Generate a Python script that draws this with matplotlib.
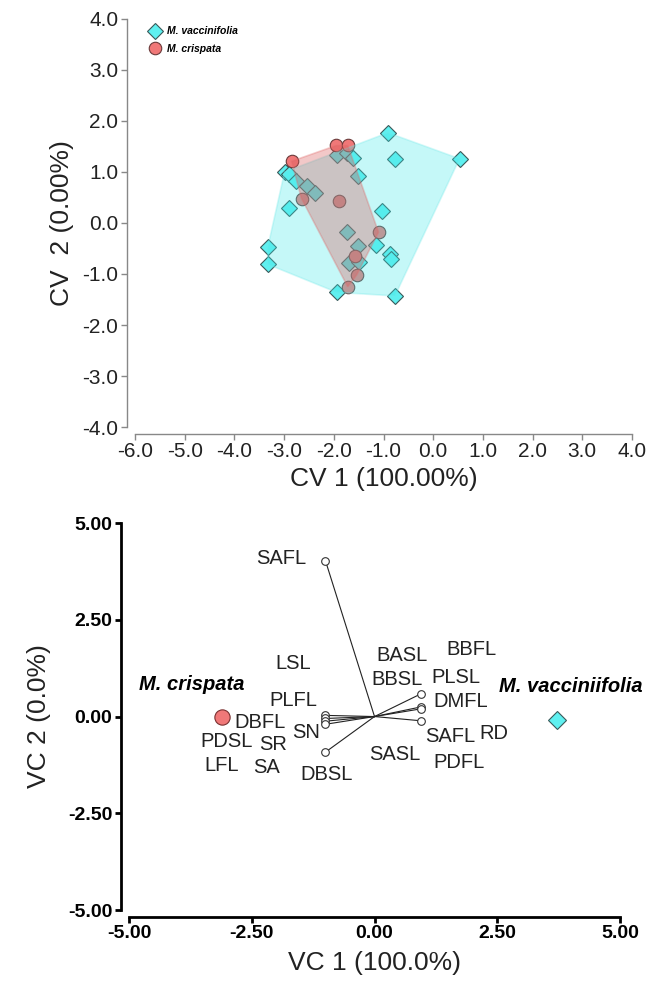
import matplotlib
matplotlib.use("Agg")
import matplotlib.pyplot as plt
from matplotlib.lines import Line2D
import numpy as np

plt.rcParams['font.family'] = ['Liberation Sans', 'DejaVu Sans']

# ---- top panel: CV scores ----
vac_x = [-0.91, 0.53, -0.77, -2.99, -2.90, -2.77, -2.54, -2.37, -2.90, -1.94, -1.74, -1.62, -1.52,
         -1.03, -1.74, -1.52, -1.16, -0.87, -0.85, -3.33, -3.33, -1.69, -1.49, -1.94, -0.77]
vac_y = [1.77, 1.26, 1.26, 1.00, 0.96, 0.82, 0.73, 0.58, 0.29, 1.34, 1.37, 1.27, 0.92,
         0.24, -0.18, -0.45, -0.43, -0.61, -0.70, -0.48, -0.81, -0.79, -0.76, -1.36, -1.43]
cri_x = [-2.85, -1.95, -1.72, -2.65, -1.89, -1.10, -1.58, -1.54, -1.72]
cri_y = [1.21, 1.52, 1.52, 0.48, 0.43, -0.18, -0.64, -1.02, -1.25]

# ---- bottom panel: biplot ----
grp_names = ['M. crispata', 'M. vacciniifolia']
grp_x = [-3.10, 3.71]
grp_y = [0.0, -0.10]
grp_lab_x = [-3.73, 4.0]
grp_lab_y = [0.83, 0.78]

vec_x = [-1.0, -1.0, -1.0, -1.0, -1.0, -1.0, 0.95, 0.95, 0.95, 0.95]
vec_y = [4.03, 0.03, -0.05, -0.12, -0.20, -0.92, 0.59, 0.25, 0.20, -0.11]

var_names = ['SAFL', 'LSL', 'PLFL', 'DBFL', 'SN', 'PDSL', 'SR', 'LFL', 'SA', 'DBSL',
             'BASL', 'BBFL', 'BBSL', 'PLSL', 'DMFL', 'SAFL', 'RD', 'SASL', 'PDFL']
var_x = [-1.91, -1.66, -1.66, -2.34, -1.39, -3.01, -2.06, -3.12, -2.19, -0.98,
         0.56, 1.98, 0.45, 1.66, 1.76, 1.54, 2.44, 0.41, 1.72]
var_y = [4.08, 1.38, 0.41, -0.15, -0.41, -0.65, -0.73, -1.27, -1.31, -1.51,
         1.59, 1.72, 0.95, 1.02, 0.39, -0.52, -0.45, -0.97, -1.18]


def hull(xs, ys):
    pts = sorted(set(zip(xs, ys)))
    def cross(o, a, b):
        return (a[0]-o[0])*(b[1]-o[1]) - (a[1]-o[1])*(b[0]-o[0])
    lower, upper = [], []
    for p in pts:
        while len(lower) >= 2 and cross(lower[-2], lower[-1], p) <= 0:
            lower.pop()
        lower.append(p)
    for p in reversed(pts):
        while len(upper) >= 2 and cross(upper[-2], upper[-1], p) <= 0:
            upper.pop()
        upper.append(p)
    return np.array(lower[:-1] + upper[:-1])


cyan = '#5ff0f0'
red = '#f07878'

fig = plt.figure(figsize=(6.51, 9.88), dpi=100)

ax1 = fig.add_axes([0.2074, 0.5678, 0.7634, 0.413])
ax1.plot(vac_x, vac_y, 'D', ms=8, mfc=cyan, mec='#3a5a5a', mew=0.8, zorder=2)
ax1.plot(cri_x, cri_y, 'o', ms=9, mfc=red, mec='#6a3a3a', mew=0.8, zorder=2)
h = hull(vac_x, vac_y)
ax1.fill(h[:, 0], h[:, 1], fc='#40e8e8', alpha=0.3, ec='#70e8e8', lw=1.2, zorder=3)
h = hull(cri_x, cri_y)
ax1.fill(h[:, 0], h[:, 1], fc='#d85858', alpha=0.33, ec='#e06868', lw=1.2, zorder=4)

ax1.set_xlim(-6, 4)
ax1.set_ylim(-4, 4)
ax1.set_xticks(np.arange(-6, 4.1, 1))
ax1.set_yticks(np.arange(-4, 4.1, 1))
ax1.xaxis.set_major_formatter(matplotlib.ticker.FormatStrFormatter('%.1f'))
ax1.yaxis.set_major_formatter(matplotlib.ticker.FormatStrFormatter('%.1f'))
for s in ['top', 'right']:
    ax1.spines[s].set_visible(False)
ax1.spines['left'].set_position(('outward', 6))
ax1.spines['bottom'].set_position(('outward', 5))
for s in ['left', 'bottom']:
    ax1.spines[s].set_color('#888888')
    ax1.spines[s].set_linewidth(1)
ax1.tick_params(colors='#888888', labelcolor='#222222', labelsize=15, length=4, width=1, pad=2)
ax1.set_xlabel('CV 1 (100.00%)', fontsize=19, color='#222222', labelpad=4)
ax1.set_ylabel('CV  2 (0.00%)', fontsize=19, color='#222222', labelpad=6)

handles = [Line2D([], [], ls='none', marker='D', ms=8, mfc=cyan, mec='#3a5a5a', mew=0.8),
           Line2D([], [], ls='none', marker='o', ms=9, mfc=red, mec='#6a3a3a', mew=0.8)]
ax1.legend(handles, ['M. vaccinifolia', 'M. crispata'], loc='upper left',
           bbox_to_anchor=(0.0, 1.005), frameon=False, handletextpad=0.2, labelspacing=0.75,
           prop=dict(style='italic', weight='bold', size=7.5))

# ---- bottom ----
ax2 = fig.add_axes([0.1982, 0.0789, 0.7542, 0.3917])
for vx, vy in zip(vec_x, vec_y):
    ax2.plot([0, vx], [0, vy], color='#222222', lw=0.8, zorder=2)
ax2.plot(vec_x, vec_y, 'o', ms=5.5, mfc='white', mec='#333333', mew=0.8, zorder=3)
ax2.plot(grp_x[0], grp_y[0], 'o', ms=11, mfc=red, mec='#7a3030', mew=0.8, zorder=3)
ax2.plot(grp_x[1], grp_y[1], 'D', ms=9, mfc=cyan, mec='#3a5a5a', mew=0.8, zorder=3)
for name, gx, gy in zip(grp_names, grp_lab_x, grp_lab_y):
    ax2.text(gx, gy, name, ha='center', va='center', fontsize=14.5, style='italic',
             weight='bold')
for name, tx, ty in zip(var_names, var_x, var_y):
    ax2.text(tx, ty, name, ha='center', va='center', fontsize=14.5, color='#222222')

ax2.set_xlim(-5, 5)
ax2.set_ylim(-5, 5)
ax2.set_xticks([-5, -2.5, 0, 2.5, 5])
ax2.set_yticks([-5, -2.5, 0, 2.5, 5])
ax2.xaxis.set_major_formatter(matplotlib.ticker.FormatStrFormatter('%.2f'))
ax2.yaxis.set_major_formatter(matplotlib.ticker.FormatStrFormatter('%.2f'))
for s in ['top', 'right']:
    ax2.spines[s].set_visible(False)
ax2.spines['left'].set_position(('outward', 6))
ax2.spines['bottom'].set_position(('outward', 5))
for s in ['left', 'bottom']:
    ax2.spines[s].set_linewidth(2)
ax2.tick_params(labelsize=14, length=4, width=2, pad=2)
for lab in ax2.get_xticklabels() + ax2.get_yticklabels():
    lab.set_fontweight('bold')
ax2.set_xlabel('VC 1 (100.0%)', fontsize=19, color='#222222', labelpad=6)
ax2.set_ylabel('VC 2 (0.0%)', fontsize=19, color='#222222', labelpad=12)

fig.savefig('out.png', dpi=100)
